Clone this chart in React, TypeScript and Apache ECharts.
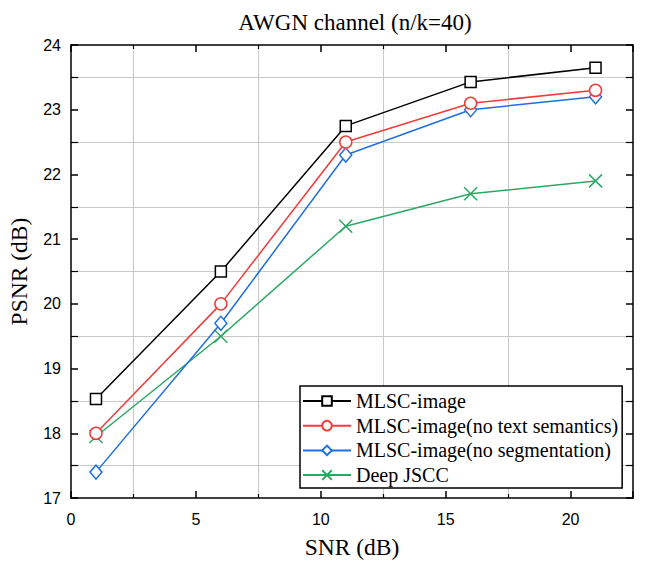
import React, { useEffect, useRef } from "react";
import * as echarts from "echarts";

const snr = [1, 6, 11, 16, 21];
const mlsc = [18.53, 20.5, 22.75, 23.43, 23.65];
const noText = [18.0, 20.0, 22.5, 23.1, 23.3];
const noSeg = [17.4, 19.7, 22.3, 23.0, 23.2];
const deepJscc = [17.95, 19.5, 21.2, 21.7, 21.9];
const seriesNames = [
  "MLSC-image",
  "MLSC-image(no text semantics)",
  "MLSC-image(no segmentation)",
  "Deep JSCC",
];
const seriesColors = ["#000000", "#f03c3c", "#1f6fe0", "#2ca864"];

const pair = (ys: number[]) => snr.map((x, i) => [x, ys[i]]);

export default function App() {
  const ref = useRef<HTMLDivElement>(null);
  useEffect(() => {
    const chart = echarts.init(ref.current!, null, { renderer: "svg" });
    const serif = "Times New Roman, Liberation Serif, serif";
    const sans = "Arial, Liberation Sans, sans-serif";
    const baseX = {
      type: "value",
      min: 0,
      max: 22.5,
      interval: 5,
      axisLine: { show: true, onZero: false, lineStyle: { color: "#000", width: 1.5 } },
      axisTick: { show: true, inside: true, length: 7, lineStyle: { color: "#000", width: 1.5 } },
      minorTick: { show: true, splitNumber: 2, length: 4, lineStyle: { color: "#000", width: 1.2 } },
      splitLine: { show: false },
    };
    const baseY = {
      type: "value",
      min: 17,
      max: 24,
      interval: 1,
      axisLine: { show: true, onZero: false, lineStyle: { color: "#000", width: 1.5 } },
      axisTick: { show: true, inside: true, length: 7, lineStyle: { color: "#000", width: 1.5 } },
      minorTick: { show: true, splitNumber: 2, length: 7, lineStyle: { color: "#000", width: 1.2 } },
      splitLine: { show: false },
    };
    const mk = (i: number, ys: number[], symbol: string, size: any) => ({
      name: seriesNames[i],
      type: "line",
      data: pair(ys),
      symbol,
      symbolSize: size,
      showAllSymbol: true,
      color: seriesColors[i],
      lineStyle: { color: seriesColors[i], width: 1.5 },
      itemStyle: {
        color: symbol.startsWith("path") ? "none" : "#fff",
        borderColor: seriesColors[i],
        borderWidth: 1.5,
      },
      z: 10 - i,
    });
    chart.setOption({
      animation: false,
      backgroundColor: "#fff",
      textStyle: { fontFamily: serif },
      title: {
        text: "AWGN channel (n/k=40)",
        left: 350,
        textAlign: "center",
        top: 6,
        textStyle: { fontFamily: serif, fontSize: 23, fontWeight: "normal", color: "#000" },
      },
      grid: {
        left: 71,
        right: 12,
        top: 45,
        bottom: 64,
        containLabel: false,
        outerBoundsMode: "none",
      },
      xAxis: [
        {
          ...baseX,
          position: "bottom",
          name: "SNR (dB)",
          nameLocation: "middle",
          nameGap: 37,
          nameTextStyle: { fontFamily: serif, fontSize: 23.5, color: "#000" },
          minorSplitLine: { show: true, lineStyle: { color: "#c8c8c8", width: 1 } },
          axisLabel: {
            fontFamily: sans,
            fontSize: 16,
            color: "#000",
            margin: 13,
            showMaxLabel: false,
            formatter: (v: number) => (v % 5 === 0 ? String(v) : ""),
          },
        },
        { ...baseX, position: "top", axisLabel: { show: false } },
      ],
      yAxis: [
        {
          ...baseY,
          position: "left",
          name: "PSNR (dB)",
          nameLocation: "middle",
          nameGap: 40,
          nameTextStyle: { fontFamily: serif, fontSize: 23.5, color: "#000" },
          minorSplitLine: { show: true, lineStyle: { color: "#c8c8c8", width: 1 } },
          axisLabel: { fontFamily: sans, fontSize: 16, color: "#000", margin: 10 },
        },
        { ...baseY, position: "right", axisLabel: { show: false } },
      ],
      legend: {
        left: 300,
        top: 386,
        orient: "vertical",
        itemWidth: 48,
        itemHeight: 12,
        itemGap: 4.7,
        padding: [5, 4, 3, 2],
        backgroundColor: "#fff",
        borderColor: "#000",
        borderWidth: 1.5,
        textStyle: { fontFamily: serif, fontSize: 20, color: "#000", lineHeight: 20 },
        data: seriesNames,
      },
      series: [
        mk(0, mlsc, "rect", 11),
        mk(1, noText, "circle", 12),
        mk(2, noSeg, "diamond", [12, 14]),
        mk(3, deepJscc, "path://M0,0L10,10M10,0L0,10", 13),
      ],
    });
    return () => chart.dispose();
  }, []);
  return (
    <div
      ref={ref}
      style={{ position: "fixed", left: 0, top: 0, width: 645, height: 562 }}
    />
  );
}
